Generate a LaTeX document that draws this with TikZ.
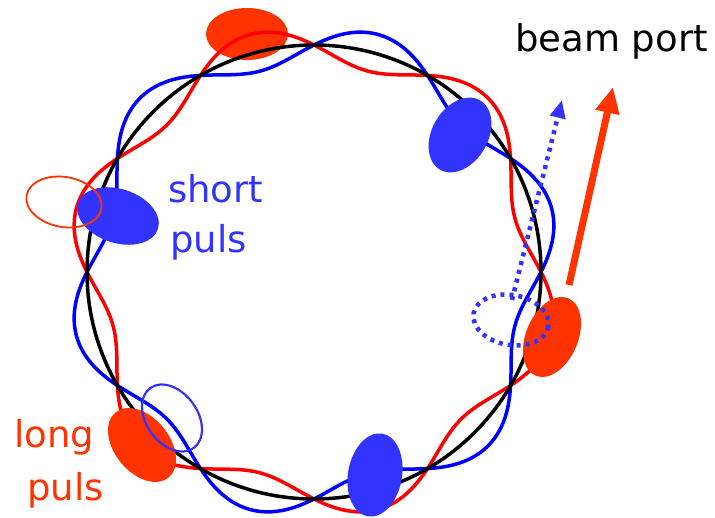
\documentclass[tikz,border=0pt]{standalone}
\usepackage{fontspec}
\usepackage{xcolor}
\usepackage{tikz}
\usetikzlibrary{arrows.meta}
\newfontfamily\pulsfont{DejaVu Sans}
\tikzset{every picture/.append style={font=\pulsfont\fontsize{37}{44}\selectfont}}
\tikzset{lbl/.style={anchor=base west,inner sep=0pt}}
\definecolor{wavered}{HTML}{FF0000}
\definecolor{waveblue}{HTML}{0000FF}
\definecolor{bunchred}{HTML}{FF3300}
\definecolor{bunchblue}{HTML}{3333FF}

\begin{document}
\begin{tikzpicture}[x=1pt,y=-1pt]
    \def\cx{314}
    \def\cy{272}
    \def\R{227}
    \def\A{19}
    \useasboundingbox (0,0) rectangle (715,518);
    \fill[bunchred] (247,34) ellipse [x radius=41, y radius=26];
    \draw[wavered,line width=3.5] plot[domain=0:357.5,samples=144,smooth cycle]
      ({\cx+(\R-\A*sin(6*\x))*cos(\x)},{\cy-(\R-\A*sin(6*\x))*sin(\x)});
    \draw[waveblue,line width=3.5] plot[domain=0:357.5,samples=144,smooth cycle]
      ({\cx+(\R+\A*sin(6*\x))*cos(\x)},{\cy-(\R+\A*sin(6*\x))*sin(\x)});
    \draw[black,line width=3.5] (\cx,\cy) circle [radius=\R];
    \foreach \px/\py/\rx/\ry/\rot/\col in {460/135/40/28/60/bunchblue,
        552/337/42/26/67/bunchred, 375/475/42/27/80/bunchblue,
        142/445/42/27.5/-51/bunchred, 118/216/42/27/-18/bunchblue} {
      \fill[\col,rotate around={\rot:(\px,\py)}] (\px,\py) ellipse [x radius=\rx, y radius=\ry];
    }
    \draw[bunchred,line width=1.8,rotate around={-10:(64,202)}] (64,202) ellipse [x radius=38, y radius=25];
    \draw[bunchblue,line width=2.2,rotate around={-54:(172,418)}] (172,418) ellipse [x radius=37, y radius=25.5];
    \draw[bunchblue,line width=4.5,dash pattern=on 4pt off 5pt,rotate around={-10:(511,320)}] (511,320) ellipse [x radius=38, y radius=25];
    \coordinate (dottail) at (512,300);
    \coordinate (dottip) at (562,100);
    \coordinate (redtail) at (569,285);
    \coordinate (redtip) at (613,87);
    \draw[bunchblue,line width=4.5,dash pattern=on 4pt off 5pt,-{Triangle[length=18pt,width=15pt]}] (dottail) -- (dottip);
    \draw[bunchred,line width=7,-{Triangle[length=26pt,width=23pt]}] (redtail) -- (redtip);
    \node[lbl] (port) at (515,52) {beam port};
    \node[lbl,bunchblue] (shortlbl) at (168,203) {short};
    \node[lbl,bunchblue] (shortlbl2) at (170,253) {puls};
    \node[lbl,bunchred] (longlbl) at (14,448) {long};
    \node[lbl,bunchred] (longlbl2) at (27,500) {puls};
  \end{tikzpicture}
\end{document}
